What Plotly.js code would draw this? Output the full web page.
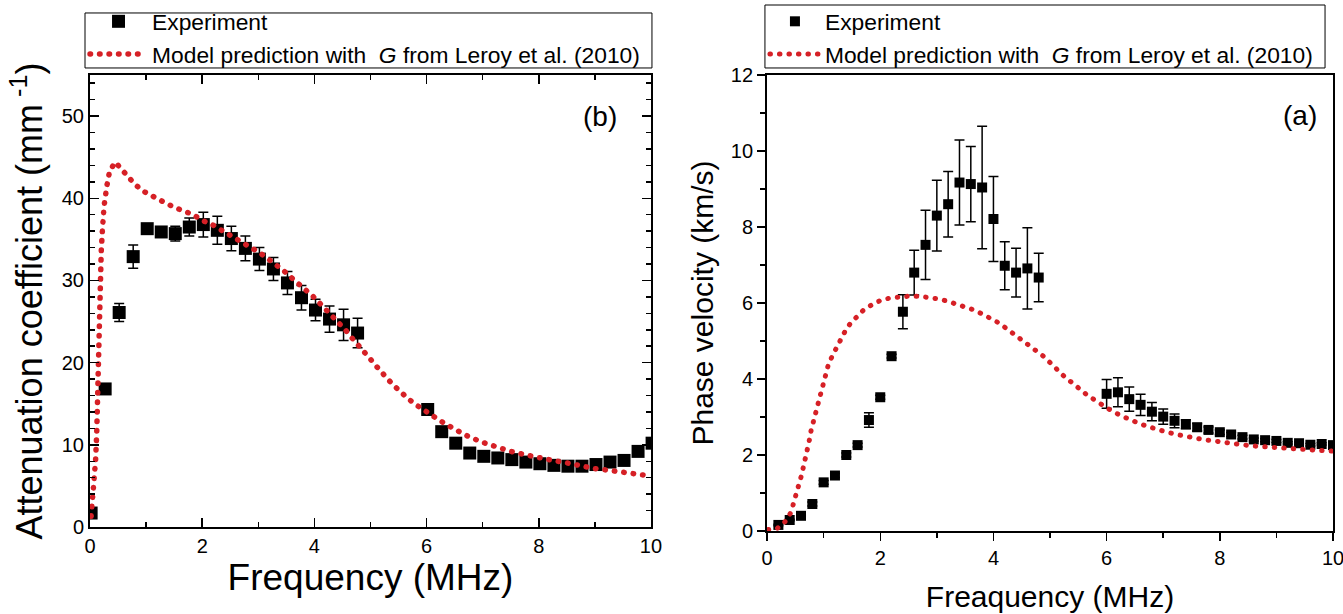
<!DOCTYPE html>
<html>
<head>
<meta charset="utf-8">
<script src="https://cdn.plot.ly/plotly-3.0.1.min.js"></script>
<style>html,body{margin:0;padding:0;background:#fff;}#chart{width:1343px;height:614px;}</style>
</head>
<body>
<div id="chart"></div>
<script>
// ---------- Panel (b): attenuation coefficient ----------
var attenExpX = [0.02,0.27,0.52,0.77,1.02,1.27,1.52,1.77,2.02,2.27,2.52,2.77,3.02,3.27,3.52,3.77,4.02,4.27,4.52,4.77,
                 6.02,6.27,6.52,6.77,7.02,7.27,7.52,7.77,8.02,8.27,8.52,8.77,9.02,9.27,9.52,9.77,10.02];
var attenExpY = [1.7,16.8,26.1,32.9,36.3,35.9,35.7,36.5,36.8,36.1,35.1,33.9,32.6,31.4,29.7,27.9,26.4,25.3,24.6,23.6,
                 14.3,11.6,10.2,9.0,8.6,8.4,8.2,7.9,7.7,7.5,7.4,7.4,7.6,7.9,8.1,9.2,10.2];
var attenExpErr = [0.3,0.3,1.1,1.4,0.3,0.6,0.9,1.1,1.5,1.7,1.5,1.5,1.4,1.4,1.4,1.5,1.3,1.6,1.9,1.8,
                   0.7,0.5,0.3,0.3,0.2,0.2,0.2,0.2,0.2,0.2,0.2,0.2,0.2,0.2,0.2,0.2,0.2];
var attenModelX = [0.02,0.05,0.08,0.10,0.12,0.13,0.14,0.15,0.16,0.18,0.20,0.22,0.25,0.30,0.35,0.45,0.58,0.68,0.80,0.94,
                   1.09,1.23,1.38,1.54,1.69,1.84,2.00,2.15,2.30,2.45,2.60,2.75,2.90,3.04,3.18,3.31,3.45,3.58,3.72,3.84,
                   3.97,4.10,4.22,4.33,4.44,4.55,4.67,4.78,4.88,4.99,5.10,5.21,5.32,5.45,5.58,5.69,5.85,6.00,6.25,6.50,
                   6.75,7.00,7.25,7.50,7.75,8.00,8.25,8.50,8.82,9.00,9.25,9.50,9.83,10.00];
var attenModelY = [1.3,3.6,5.9,8.2,11.5,14.8,18.0,22.0,26.0,30.5,33.5,36.0,39.0,41.5,43.3,44.4,43.3,42.5,41.7,40.9,
                   40.3,39.8,39.3,38.8,38.4,38.0,37.3,36.9,36.3,35.7,35.2,34.5,33.9,33.3,32.6,32.0,31.2,30.4,29.6,28.9,
                   28.1,27.2,26.4,25.6,24.8,24.0,23.0,22.2,21.3,20.5,19.6,18.7,17.9,17.0,16.1,15.5,14.7,14.0,12.9,11.9,
                   11.0,10.3,9.7,9.2,8.8,8.4,8.1,7.8,7.3,7.1,6.9,6.7,6.3,6.2];

// ---------- Panel (a): phase velocity ----------
var velExpX = [0.2,0.4,0.6,0.8,1.0,1.2,1.4,1.6,1.8,2.0,2.2,2.4,2.6,2.8,3.0,3.2,3.4,3.6,3.8,4.0,4.2,4.4,4.6,4.8,
               6.0,6.2,6.4,6.6,6.8,7.0,7.2,7.4,7.6,7.8,8.0,8.2,8.4,8.6,8.8,9.0,9.2,9.4,9.6,9.8,10.0];
var velExpY = [0.16,0.29,0.40,0.71,1.28,1.46,2.00,2.26,2.92,3.52,4.60,5.77,6.80,7.53,8.30,8.60,9.17,9.13,9.04,8.21,6.98,6.80,6.91,6.67,
               3.61,3.65,3.47,3.32,3.14,3.01,2.90,2.81,2.73,2.66,2.60,2.54,2.47,2.41,2.39,2.37,2.32,2.31,2.27,2.29,2.26];
var velExpErr = [0.02,0.02,0.02,0.05,0.05,0.05,0.05,0.05,0.19,0.05,0.05,0.45,0.59,0.91,0.93,0.86,1.12,0.99,1.61,1.12,0.63,0.64,1.07,0.64,
                 0.38,0.38,0.32,0.28,0.24,0.20,0.18,0.12,0.10,0.08,0.06,0.05,0.05,0.04,0.04,0.04,0.03,0.03,0.03,0.03,0.03];
var velModelX = [0.02,0.18,0.31,0.41,0.46,0.51,0.56,0.60,0.64,0.68,0.71,0.75,0.78,0.82,0.86,0.90,0.94,0.98,1.04,1.08,
                 1.15,1.22,1.29,1.38,1.47,1.57,1.70,1.86,2.01,2.17,2.34,2.51,2.68,2.85,3.02,3.18,3.34,3.50,3.65,3.79,
                 3.94,4.09,4.22,4.35,4.50,4.63,4.77,4.90,5.03,5.14,5.27,5.40,5.53,5.67,5.82,5.96,6.10,6.26,6.43,6.59,
                 6.75,6.91,7.07,7.24,7.40,7.56,7.73,7.90,8.06,8.23,8.40,8.57,8.73,8.90,9.06,9.23,9.40,9.58,9.75,9.92,10.0];
var velModelY = [0.04,0.07,0.23,0.46,0.69,0.93,1.18,1.42,1.67,1.91,2.17,2.41,2.66,2.90,3.14,3.39,3.63,3.88,4.11,4.36,
                 4.60,4.82,5.04,5.26,5.46,5.63,5.81,5.96,6.07,6.13,6.17,6.18,6.18,6.16,6.11,6.05,5.98,5.90,5.82,5.72,
                 5.61,5.48,5.34,5.20,5.05,4.89,4.76,4.58,4.39,4.22,4.04,3.89,3.73,3.56,3.42,3.27,3.15,3.03,2.91,2.82,
                 2.74,2.66,2.60,2.54,2.49,2.45,2.40,2.37,2.33,2.31,2.27,2.24,2.22,2.20,2.18,2.17,2.15,2.14,2.12,2.11,2.10];

var FONT = 'Liberation Sans, Arial, Helvetica, sans-serif';
var RED = 'rgb(214,32,38)';
var DOTS = '0.5px,9px';
var MODEL_NAME = 'Model prediction with  <i>G</i> from Leroy et al. (2010)';

var traces = [
  {x: attenExpX, y: attenExpY, xaxis: 'x', yaxis: 'y', type: 'scatter', mode: 'markers', name: 'Experiment', legend: 'legend',
   marker: {symbol: 'square', size: 13, color: 'black'},
   error_y: {type: 'data', array: attenExpErr, visible: true, color: 'black', thickness: 1.5, width: 5}},
  {x: attenModelX, y: attenModelY, xaxis: 'x', yaxis: 'y', type: 'scatter', mode: 'lines', legend: 'legend',
   name: MODEL_NAME, line: {color: RED, width: 5.5, dash: DOTS}},
  {x: velExpX, y: velExpY, xaxis: 'x2', yaxis: 'y2', type: 'scatter', mode: 'markers', name: 'Experiment', legend: 'legend2',
   marker: {symbol: 'square', size: 10, color: 'black'},
   error_y: {type: 'data', array: velExpErr, visible: true, color: 'black', thickness: 1.5, width: 5}},
  {x: velModelX, y: velModelY, xaxis: 'x2', yaxis: 'y2', type: 'scatter', mode: 'lines', legend: 'legend2',
   name: MODEL_NAME, line: {color: RED, width: 5, dash: DOTS}}
];

function baseAxis(extra) {
  var a = {showgrid: false, zeroline: false, showline: true, linewidth: 2, linecolor: 'black',
           tickcolor: 'black', tickwidth: 1.5, ticklabeloverflow: 'allow',
           tickfont: {family: FONT, size: 20, color: 'black'}};
  for (var k in extra) a[k] = extra[k];
  return a;
}
function overlayAxis(extra) {
  var a = {showgrid: false, zeroline: false, showline: false, showticklabels: false,
           tickcolor: 'black', tickwidth: 1.5};
  for (var k in extra) a[k] = extra[k];
  return a;
}
function legendBox(x0, x1, y0, y1) {
  return {type: 'rect', xref: 'paper', yref: 'paper', x0: x0, x1: x1, y0: y0, y1: y1,
          line: {color: 'black', width: 1}, fillcolor: 'rgba(0,0,0,0)', layer: 'below'};
}

var layout = {
  width: 1343, height: 614,
  margin: {l: 90, r: 10, t: 75, b: 83, autoexpand: false},
  paper_bgcolor: 'white', plot_bgcolor: 'white',
  font: {family: FONT, color: 'black'},
  showlegend: true,
  xaxis: baseAxis({domain: [0, 0.4513], anchor: 'y', range: [0, 10], tickmode: 'linear', tick0: 0, dtick: 2,
    ticks: 'inside', ticklen: 9, mirror: 'ticks',
    minor: {dtick: 1, ticks: 'inside', ticklen: 5, tickwidth: 1.5, tickcolor: 'black'},
    title: {text: 'Frequency (MHz)', font: {family: FONT, size: 37, color: 'black'}, standoff: 6}}),
  yaxis: baseAxis({domain: [0.00877, 1], anchor: 'x', range: [0, 55], tickmode: 'linear', tick0: 0, dtick: 10,
    ticks: 'inside', ticklen: 9, mirror: 'ticks',
    minor: {dtick: 2, ticks: 'inside', ticklen: 5, tickwidth: 1.5, tickcolor: 'black'},
    title: {text: 'Attenuation coefficient (mm<sup> -1</sup>)', font: {family: FONT, size: 36, color: 'black'}, standoff: 8}}),
  xaxis3: overlayAxis({overlaying: 'x', anchor: 'y', side: 'bottom', range: [0, 10], tickmode: 'linear', tick0: 0, dtick: 2,
    ticks: 'outside', ticklen: 6}),
  yaxis3: overlayAxis({overlaying: 'y', anchor: 'x', side: 'left', range: [0, 55], tickmode: 'linear', tick0: 0, dtick: 10,
    ticks: 'outside', ticklen: 7}),
  xaxis2: baseAxis({domain: [0.5447, 1], anchor: 'y2', range: [0, 10], tickmode: 'linear', tick0: 0, dtick: 2,
    ticks: 'outside', ticklen: 8, mirror: true,
    minor: {dtick: 1, ticks: 'outside', ticklen: 5, tickwidth: 1.5, tickcolor: 'black'},
    title: {text: 'Freaquency (MHz)', font: {family: FONT, size: 30, color: 'black'}, standoff: 18}}),
  yaxis2: baseAxis({domain: [0, 1], anchor: 'x2', range: [0, 12], tickmode: 'linear', tick0: 0, dtick: 2,
    ticks: 'outside', ticklen: 8, mirror: true,
    minor: {dtick: 1, ticks: 'outside', ticklen: 5, tickwidth: 1.5, tickcolor: 'black'},
    title: {text: 'Phase velocity (km/s)', font: {family: FONT, size: 30, color: 'black'}, standoff: 8}}),
  yaxis4: overlayAxis({overlaying: 'y2', anchor: 'x2', side: 'right', range: [0, 12], tickmode: 'linear', tick0: 0, dtick: 2,
    ticks: 'inside', ticklen: 8,
    minor: {dtick: 1, ticks: 'inside', ticklen: 5, tickwidth: 1.5, tickcolor: 'black'}}),
  legend: {x: -0.004, y: 1.1645, xanchor: 'left', yanchor: 'top', bgcolor: 'rgba(0,0,0,0)',
    borderwidth: 0, itemwidth: 57, tracegroupgap: 0,
    font: {family: FONT, size: 22.8, color: 'black'}},
  legend2: {x: 0.543, y: 1.1645, xanchor: 'left', yanchor: 'top', bgcolor: 'rgba(0,0,0,0)',
    borderwidth: 0, itemwidth: 50, tracegroupgap: 0,
    font: {family: FONT, size: 22.8, color: 'black'}},
  shapes: [
    legendBox(-0.00402, 0.4521, 1.0154, 1.136),
    legendBox(0.5430, 0.9936, 1.0154, 1.1535)
  ],
  annotations: [
    {text: '(b)', xref: 'paper', yref: 'paper', x: 0.4103, y: 0.908, xanchor: 'center', yanchor: 'middle', showarrow: false,
     font: {family: FONT, size: 28, color: 'black'}},
    {text: '(a)', xref: 'paper', yref: 'paper', x: 0.9735, y: 0.912, xanchor: 'center', yanchor: 'middle', showarrow: false,
     font: {family: FONT, size: 28, color: 'black'}}
  ]
};

Plotly.newPlot('chart', traces, layout, {staticPlot: true, displayModeBar: false}).then(function () {
  document.querySelectorAll('path.js-line').forEach(function (p) {
    p.style.strokeLinecap = 'round';
  });
});
</script>
</body>
</html>
